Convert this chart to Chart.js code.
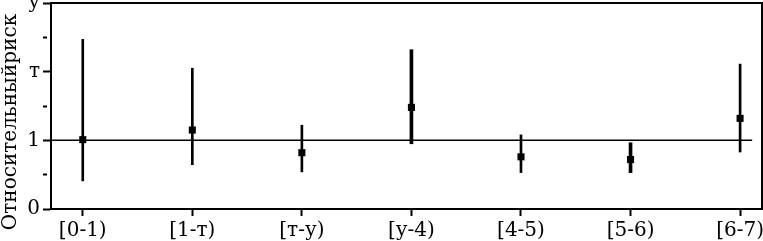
<!DOCTYPE html>
<html>
<head>
<meta charset="utf-8">
<script src="https://cdn.jsdelivr.net/npm/chart.js@4"></script>
<style>
  html, body { margin: 0; padding: 0; background: #fff; }
  #wrap { width: 763px; height: 241px; }
</style>
</head>
<body>
<div id="wrap"><canvas id="chart"></canvas></div>
<script>
// values
const categories = ["[0-1)", "[1-т)", "[т-у)", "[у-4)", "[4-5)", "[5-6)", "[6-7)"];
const riskValues = [1.01, 1.15, 0.82, 1.48, 0.76, 0.72, 1.32];
const lowerCI = [0.41, 0.645, 0.54, 0.95, 0.53, 0.53, 0.83];
const upperCI = [2.47, 2.05, 1.22, 2.32, 1.08, 0.965, 2.11];
const yTickLabels = ["0", "1", "т", "у"];
const refLineX = [-0.29, 6.11];
const refLineY = 1;

const thickBars = [3, 5]; // these intervals are drawn heavier in the original

const serif = "'DejaVu Serif', serif";

const ciPoint = i => ({ x: i, y: [lowerCI[i], upperCI[i]] });
const idx = categories.map((c, i) => i);

const framePlugin = {
    id: 'frame',
    afterDraw(chart) {
        const a = chart.chartArea;
        const ctx = chart.ctx;
        ctx.save();
        ctx.strokeStyle = '#000';
        ctx.lineWidth = 2;
        ctx.strokeRect(a.left, a.top, a.right - a.left, a.bottom - a.top);
        ctx.restore();
    }
};

new Chart(document.getElementById('chart').getContext('2d'), {
    type: 'bar',
    data: {
        datasets: [
            {
                type: 'scatter',
                data: idx.map(i => ({ x: i, y: riskValues[i] })),
                pointStyle: 'rect',
                pointRadius: 5,
                pointHoverRadius: 5,
                backgroundColor: '#000',
                borderColor: '#000',
                borderWidth: 0,
                order: 0
            },
            {
                data: idx.filter(i => !thickBars.includes(i)).map(ciPoint),
                backgroundColor: '#000',
                barThickness: 2,
                grouped: false,
                order: 1
            },
            {
                data: thickBars.map(ciPoint),
                backgroundColor: '#000',
                barThickness: 3,
                grouped: false,
                order: 1
            },
            {
                type: 'line',
                data: refLineX.map(x => ({ x: x, y: refLineY })),
                borderColor: '#000',
                borderWidth: 1.5,
                pointRadius: 0,
                order: 2
            }
        ]
    },
    options: {
        responsive: true,
        maintainAspectRatio: false,
        animation: false,
        layout: { autoPadding: false, padding: { top: 3, right: 1, left: 0, bottom: 0 } },
        plugins: {
            legend: { display: false },
            tooltip: { enabled: false },
            title: {
                display: true,
                position: 'left',
                text: 'Относительныйриск',
                color: '#000',
                padding: 0,
                font: { family: serif, size: 20, weight: 'normal', lineHeight: 1.1 }
            }
        },
        scales: {
            x: {
                type: 'linear',
                offset: false,
                min: -0.29,
                max: 6.2,
                afterBuildTicks: s => { s.ticks = idx.map(i => ({ value: i })); },
                afterFit: s => { s.height = 32; s.paddingLeft = 0; s.paddingRight = 0; },
                grid: {
                    offset: false,
                    drawOnChartArea: false,
                    tickLength: 7,
                    tickWidth: 2,
                    tickColor: '#000'
                },
                border: { color: '#000', width: 2 },
                ticks: {
                    autoSkip: false,
                    maxRotation: 0,
                    padding: 3,
                    color: '#000',
                    font: { family: serif, size: 20 },
                    callback: v => categories[v]
                }
            },
            y: {
                min: 0,
                max: 3,
                afterFit: s => { s.width = 29; s.paddingTop = 0; s.paddingBottom = 0; },
                grid: {
                    drawOnChartArea: false,
                    tickLength: 8,
                    tickWidth: 2,
                    tickColor: '#000',
                    tickBorderDash: c => Number.isInteger(c.tick.value) ? [] : [4, 100]
                },
                border: { color: '#000', width: 2 },
                ticks: {
                    stepSize: 0.5,
                    padding: 3,
                    color: '#000',
                    font: { family: serif, size: 20 },
                    callback: v => Number.isInteger(v) ? yTickLabels[v] : ''
                }
            }
        }
    },
    plugins: [framePlugin]
});
</script>
</body>
</html>
